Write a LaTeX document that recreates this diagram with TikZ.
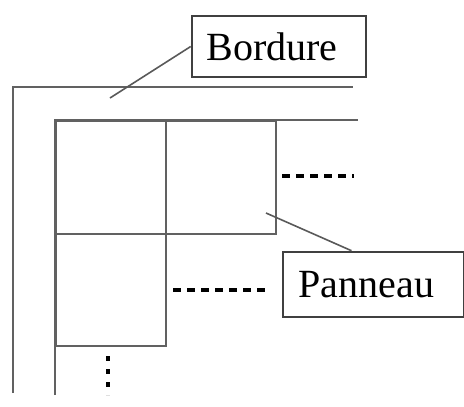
\documentclass[tikz,border=0pt]{standalone}
\usepackage{fontspec}
\setmainfont{Liberation Serif}
\usetikzlibrary{calc}
\begin{document}
\begin{tikzpicture}[x=1pt,y=-1pt,
  wall/.style={draw=black!62,line width=2.2pt},
  panel/.style={draw=black!62,line width=2.2pt,rectangle,minimum width=110pt,minimum height=113pt,inner sep=0pt,anchor=north west},
  labelbox/.style={draw=black!75,line width=2.6pt,rectangle,inner sep=0pt,font=\fontsize{40}{42}\selectfont},
  leader/.style={draw=black!65,line width=1.6pt},
  dots/.style={draw=black,line width=3.4pt,dash pattern=on 8pt off 6pt}]
\useasboundingbox (0,0) rectangle (464,407);
% border lines
\draw[wall] (13,393) -- (13,87) -- (353,87);
\draw[wall] (55,395) -- (55,120) -- (358,120);
% panels
\node[panel] (p1) at (55,120) {};
\node[panel] (p2) at (165,120) {};
\node[panel,minimum height=112pt] (p3) at (55,233) {};
% continuation dashes
\coordinate (d1a) at (282,176); \coordinate (d1b) at (354,176);
\coordinate (d2a) at (173,290); \coordinate (d2b) at (268,290);
\coordinate (d3a) at (108,356); \coordinate (d3b) at (108,395);
\draw[dots] (d1a) -- (d1b);
\draw[dots] (d2a) -- (d2b);
\draw[draw=black,line width=3.6pt,dash pattern=on 5pt off 8pt] (d3a) -- (d3b);
% labels
\node[labelbox,minimum width=174pt,minimum height=61pt] (bordure) at (279,46.5) {Bordure\kern14pt};
\node[labelbox,minimum width=181pt,minimum height=65pt] (panneau) at (373.5,284.5) {Panneau\kern14pt};
% leaders
\coordinate (bt) at (110,98);
\coordinate (pt) at (266,213);
\draw[leader] (bordure.west) -- (bt);
\draw[leader] ($(panneau.north west)!0.38!(panneau.north east)$) -- (pt);
\end{tikzpicture}
\end{document}
